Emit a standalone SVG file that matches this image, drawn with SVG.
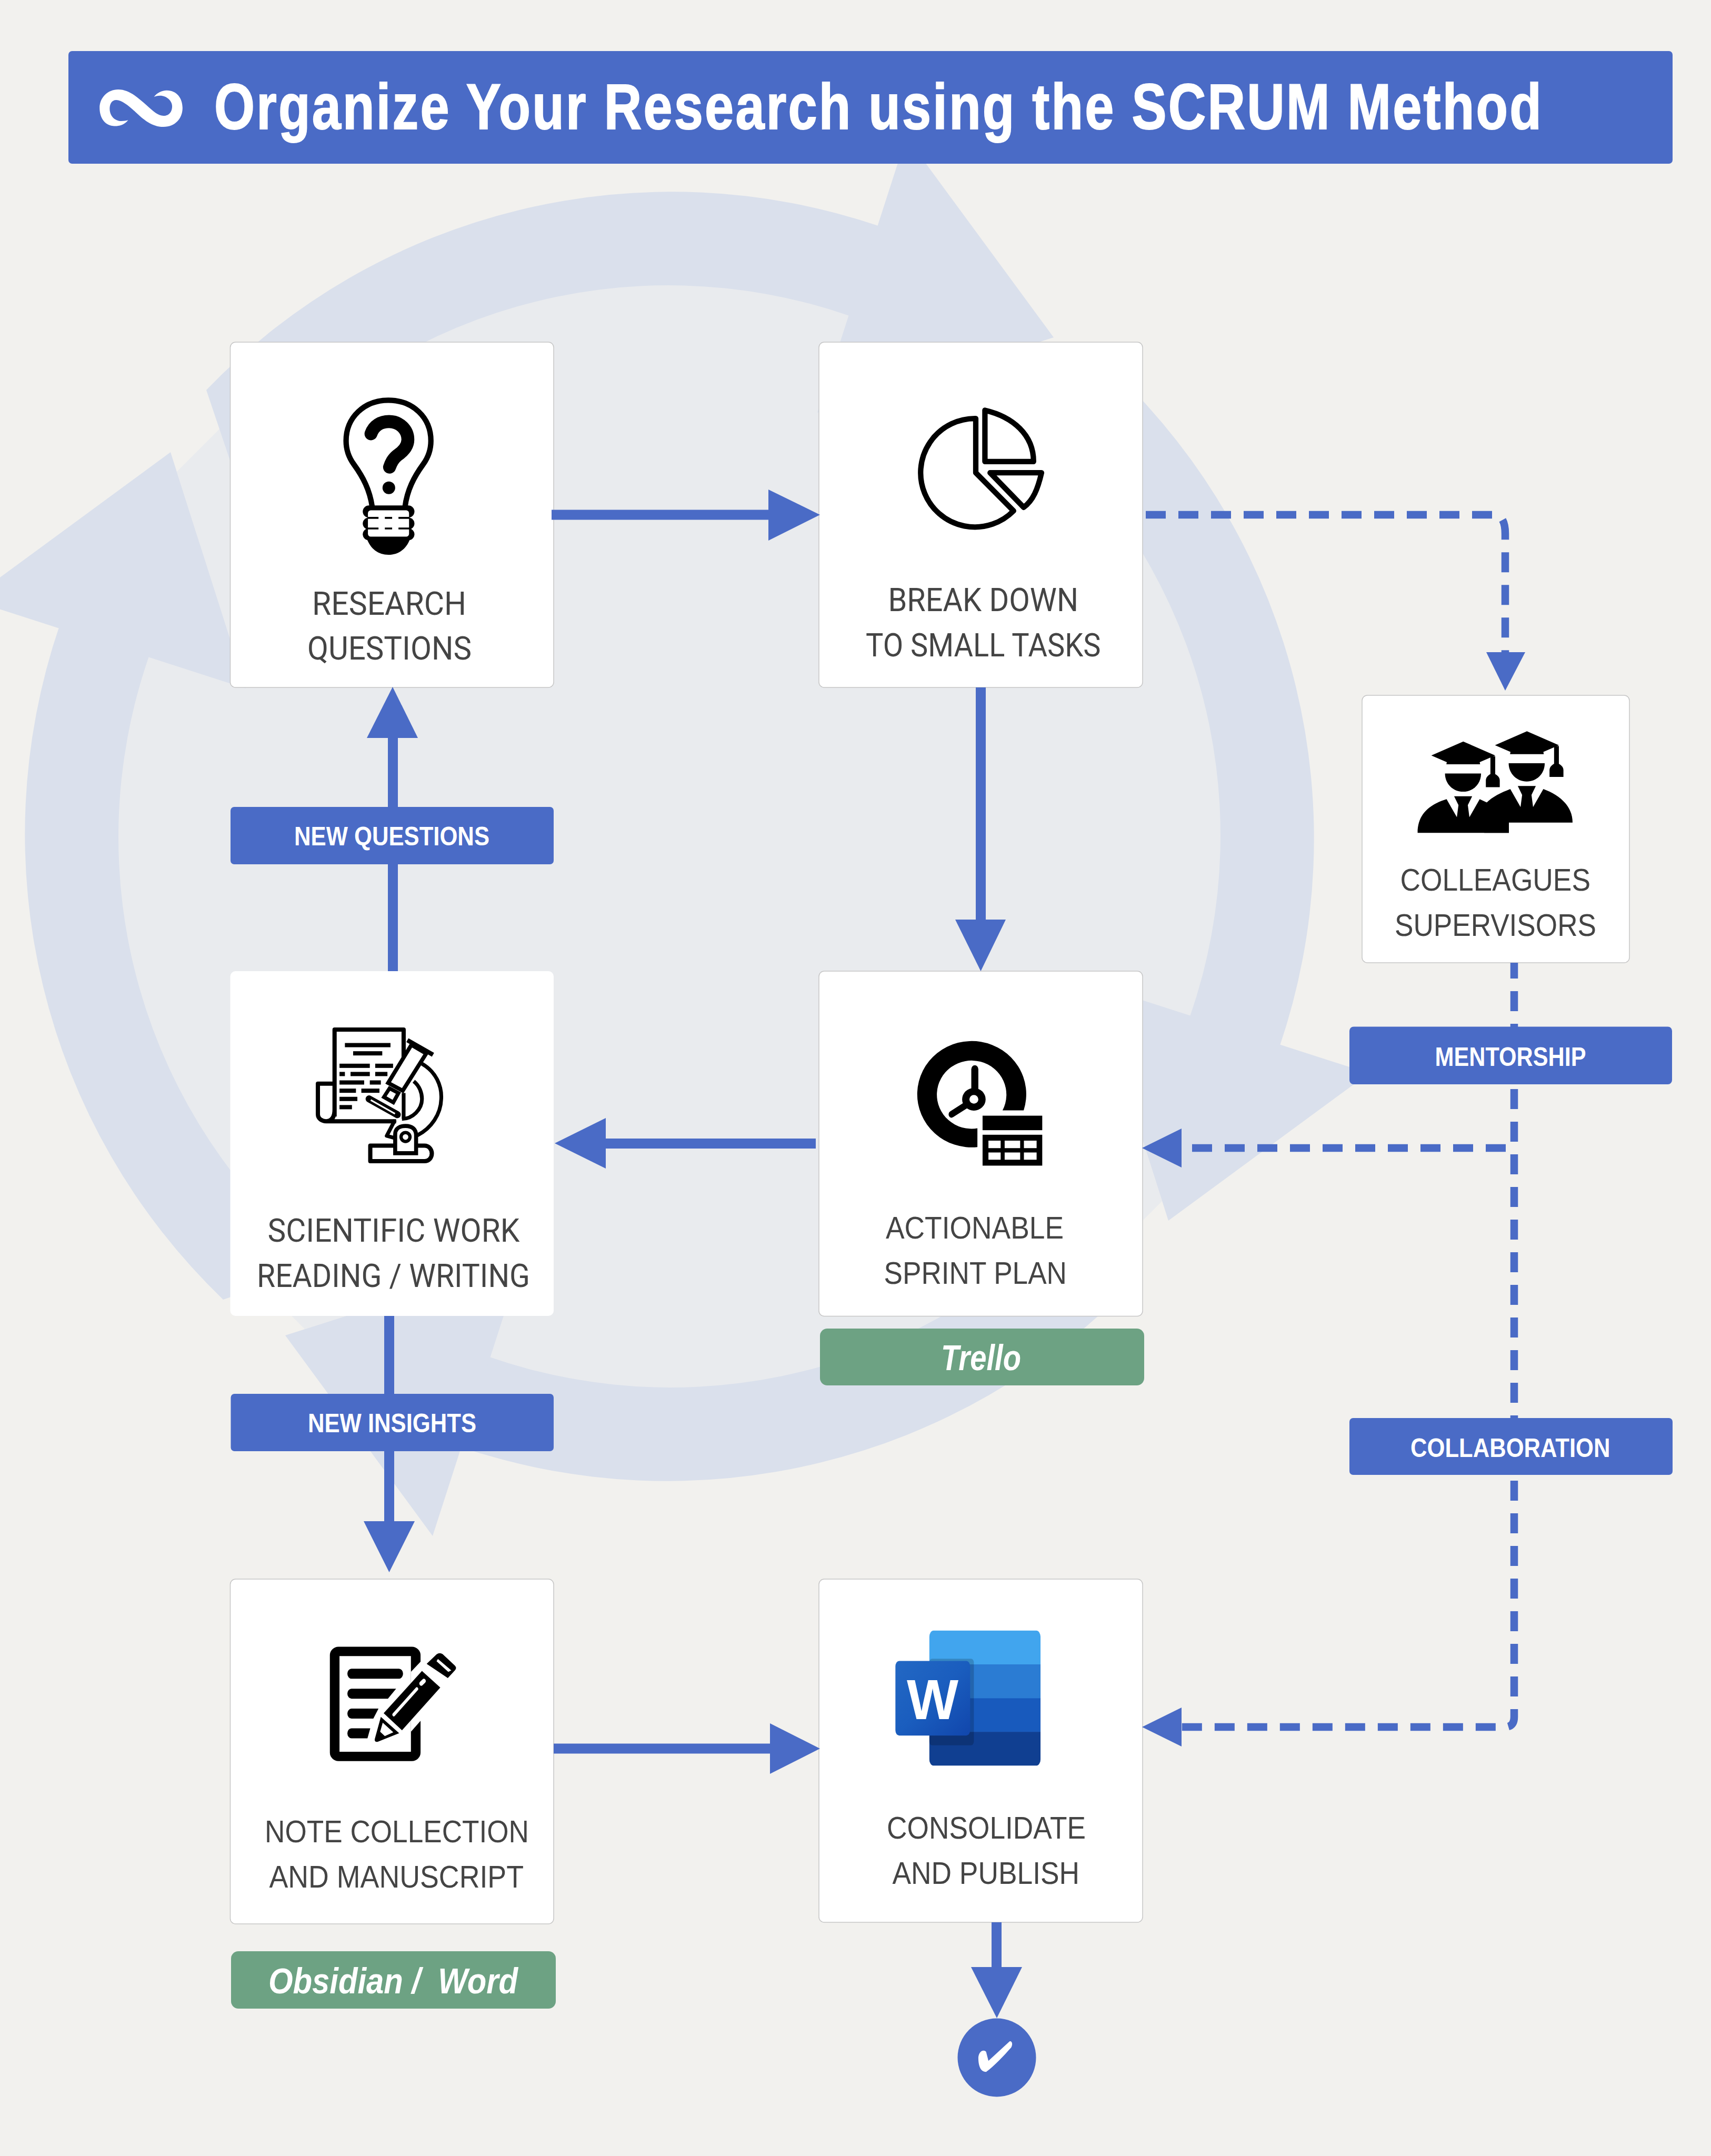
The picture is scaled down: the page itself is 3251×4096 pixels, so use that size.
<svg xmlns="http://www.w3.org/2000/svg" xmlns:xlink="http://www.w3.org/1999/xlink" width="3251" height="4096" viewBox="0 0 3251 4096">
<style>
.box{fill:#fff;stroke:#c6c6c6;stroke-width:1.5}
.lab{fill:#4a6bc6}
.grn{fill:#6da283}
.t{font-family:"Liberation Sans",Arial,sans-serif;font-size:60px;fill:#444}
.r{font-family:Roboto,"Liberation Sans",sans-serif;font-size:62px;fill:#444}
.b{font-family:"Liberation Sans",Arial,sans-serif;font-size:50px;font-weight:700;fill:#fff}
.i{font-family:"Liberation Sans",Arial,sans-serif;font-size:68px;font-weight:700;font-style:italic;fill:#fff;white-space:pre}
.solid{fill:none;stroke:#4a6bc6;stroke-width:19}
.dash{fill:none;stroke:#4a6bc6;stroke-width:14.5;stroke-dasharray:38 24}
.head{fill:#4a6bc6}
.ol{fill:none;stroke:#000;stroke-linejoin:round}
.wo{fill:#fff;stroke:#000;stroke-linejoin:miter}
</style>
<defs>
<g id="seg"><path d="M392,741A1226,1226 0 0 1 1672,430L1614,600A1047,1047 0 0 0 456,931Z"/><polygon points="1722,260 2002,641 1553,784"/></g>
<polygon id="gap" points="417,815 336,896 467,1308 520,1000"/>
<linearGradient id="wg" x1="0" y1="0" x2="1" y2="1"><stop offset="0" stop-color="#2368c4"/><stop offset=".5" stop-color="#1a5dbe"/><stop offset="1" stop-color="#1146ac"/></linearGradient>
<clipPath id="wc"><rect x="483" y="153" width="474" height="403" rx="20"/></clipPath>
<g id="grad"><path d="M368,265L508,213L648,265L580,290L582,298L434,298L436,290Z"/><rect x="627" y="268" width="21" height="70"/><path d="M607,383V358C607,345 620,335 637,331C655,335 668,345 668,358V383Z"/><path d="M428,332H586C586,372 550,400 507,400C465,400 428,372 428,332Z"/></g>
</defs>
<rect id="background" width="3251" height="4096" fill="#f2f1ee"/>
<g id="cycle">
<g fill="#e9ebee">
<circle cx="1272" cy="1589" r="1050"/>
<use xlink:href="#gap"/><use xlink:href="#gap" transform="rotate(90 1272 1589)"/><use xlink:href="#gap" transform="rotate(180 1272 1589)"/><use xlink:href="#gap" transform="rotate(270 1272 1589)"/>
</g>
<g fill="#dae0ec">
<use xlink:href="#seg"/><use xlink:href="#seg" transform="rotate(90 1272 1589)"/><use xlink:href="#seg" transform="rotate(180 1272 1589)"/><use xlink:href="#seg" transform="rotate(270 1272 1589)"/>
</g>
</g>
<g id="header"><rect x="130" y="97" width="3048" height="214" rx="7" class="lab"/>
<path transform="translate(100 80) scale(.6378 .3333)" fill="#fff" d="M225,445C210,480 190,480 180,478C150,470 140,420 140,375C140,315 165,270 195,270C230,270 255,320 280,360C300,395 315,420 330,420C350,420 356,390 356,365C356,335 340,305 320,305C312,305 306,308 302,312C310,290 325,275 340,275C370,275 387,320 387,375C387,435 365,483 330,483C295,483 270,440 245,395C225,360 205,330 190,330C175,330 170,355 170,380C170,420 185,450 205,450C213,450 218,448 225,445Z"/>
<text x="407" y="245" font-family="Liberation Sans, Arial, sans-serif" font-size="122" font-weight="700" fill="#fff" stroke="#fff" stroke-width="2" letter-spacing="4" textLength="2525" lengthAdjust="spacingAndGlyphs">Organize Your Research using the SCRUM Method</text></g>
<g id="node-research-questions"><rect class="box" x="437.500" y="650" width="614.500" height="656" rx="10"/>
<g transform="translate(400 650) scale(.4464)">
<path class="ol" stroke-width="23" d="M688,700C678,630 650,575 610,520C588,490 577,458 577,420C577,320 655,247 757,247C860,247 938,320 938,420C938,458 927,490 905,520C865,575 837,630 828,700"/>
<path class="ol" stroke-width="55" stroke-linecap="round" d="M683,390C695,355 725,338 760,338C805,338 840,372 840,415C840,445 820,465 795,482C775,498 768,515 762,532"/>
<circle cx="759" cy="620" r="27"/>
<rect x="648" y="695" width="220" height="52" rx="26"/><rect x="648" y="747" width="220" height="50" rx="25"/><rect x="648" y="793" width="220" height="50" rx="25"/>
<rect x="670" y="716" width="175" height="112" rx="12" fill="#fff"/>
<path stroke="#000" stroke-width="8" d="M668,748H715M742,748H773M800,748H847M668,793H715M742,793H773M800,793H847"/>
<path d="M665,835C680,880 715,905 757,905C800,905 835,880 850,835Z"/>
</g>
<text class="r" x="593" y="1168" textLength="293" lengthAdjust="spacingAndGlyphs">RESEARCH</text>
<text class="r" x="584" y="1253" textLength="312" lengthAdjust="spacingAndGlyphs">QUESTIONS</text></g>
<g id="node-break-down"><rect class="box" x="1556" y="650" width="615" height="656" rx="10"/>
<g transform="translate(1550 650) scale(.4464)" class="ol" stroke-width="23">
<path d="M681,325A231,231 0 1 0 842,718L681,556Z"/>
<path d="M720,290V508H927C927,395 840,318 720,290Z"/>
<path d="M742,556H961C945,625 925,675 885,703Z"/>
</g>
<text class="r" x="1687.500" y="1161" textLength="361.500" lengthAdjust="spacingAndGlyphs">BREAK DOWN</text>
<text class="r" x="1645" y="1247" textLength="446.500" lengthAdjust="spacingAndGlyphs">TO SMALL TASKS</text></g>
<g id="node-colleagues"><rect class="box" x="2588" y="1321" width="508" height="508" rx="10"/>
<g transform="translate(2560 1300) scale(.4336 .5102)">
<path d="M308,553C308,490 350,450 435,428L480,495L487,450L468,417H547L528,450L535,495L580,428L616,442C660,450 708,490 708,553Z"/>
<path d="M600,515V450C630,420 670,405 714,390L759,457L766,412L747,379H826L807,412L814,457L859,390C929,412 987,452 987,515H708V553H600Z"/>
<use xlink:href="#grad"/><use xlink:href="#grad" x="279" y="-38"/>
</g>
<text class="t" x="2660.500" y="1692" textLength="361.500" lengthAdjust="spacingAndGlyphs">COLLEAGUES</text>
<text class="t" x="2650" y="1778" textLength="383" lengthAdjust="spacingAndGlyphs">SUPERVISORS</text></g>
<g id="node-scientific-work"><rect x="437.500" y="1845" width="614.500" height="655" rx="10" fill="#fff"/>
<g transform="translate(400 1840) scale(.4464)" fill="#000">
<path class="ol" stroke-width="18" stroke-linejoin="miter" d="M528,630V260H822V380M528,490H457V620C457,640 475,650 492,650C515,650 528,635 528,600M490,650H790"/>
<rect x="572" y="317" width="194" height="18"/><rect x="607" y="352" width="124" height="18"/><rect x="549" y="405" width="129" height="18"/><rect x="701" y="405" width="76" height="18"/><rect x="549" y="440" width="23" height="18"/><rect x="596" y="440" width="82" height="18"/><rect x="701" y="440" width="52" height="18"/><rect x="549" y="476" width="105" height="18"/><rect x="678" y="476" width="47" height="18"/><rect x="549" y="511" width="70" height="18"/><rect x="642" y="511" width="77" height="18"/><rect x="549" y="546" width="76" height="18"/><rect x="549" y="581" width="53" height="18"/>
<path class="ol" stroke-width="16" d="M900,405C960,440 985,500 982,555C980,620 940,680 880,710M865,480C890,500 900,530 900,555C900,600 860,640 815,640M822,530V640"/>
<polygon class="wo" stroke-width="17" points="855,325 918,362 818,520 756,487"/>
<polygon class="wo" stroke-width="16" points="762,510 800,530 778,570 738,547"/>
<path stroke="#000" stroke-width="19" fill="none" d="M838,305L947,367"/>
<path stroke="#000" stroke-width="30" stroke-linecap="round" d="M675,555L795,622"/><path stroke="#fff" stroke-width="7" d="M682,560L785,618"/>
<path class="ol" stroke-width="16" d="M785,645L750,712L786,722"/>
<path class="ol" stroke-width="18" stroke-linejoin="miter" d="M780,754H680V820H910C930,820 942,805 942,787C942,770 930,754 910,754H880"/>
<path class="wo" stroke-width="17" d="M786,786V705C786,680 805,670 830,670C860,670 875,685 875,710V786Z"/>
<circle cx="830" cy="717" r="19" fill="#fff" stroke="#000" stroke-width="14"/>
</g>
<text class="r" x="508.500" y="2359" textLength="479" lengthAdjust="spacingAndGlyphs">SCIENTIFIC WORK</text>
<text class="r" x="488" y="2444.500" textLength="519" lengthAdjust="spacingAndGlyphs">READING / WRITING</text></g>
<g id="node-sprint-plan"><rect class="box" x="1556" y="1845" width="615" height="655.500" rx="10"/>
<g transform="translate(1550 1840) scale(.4464 .5102)">
<path d="M688,665A232,198 0 1 1 885,528H795A148,127 0 1 0 688,595Z"/>
<path stroke="#000" stroke-width="30" stroke-linecap="round" d="M677,375V480"/>
<path stroke="#000" stroke-width="25" stroke-linecap="round" d="M578,543L660,497"/>
<ellipse cx="673" cy="487" rx="50" ry="42"/><ellipse cx="673" cy="487" rx="19" ry="16" fill="#fff"/>
<rect x="710" y="548" width="254" height="54"/><rect x="710" y="619" width="254" height="115"/>
<path fill="#fff" d="M735,641h52v28h-52zM804,641h66v28h-66zM886,641h54v28h-54zM735,685h52v27h-52zM804,685h66v27h-66zM886,685h54v27h-54z"/>
</g>
<text class="t" x="1683" y="2353" textLength="338" lengthAdjust="spacingAndGlyphs">ACTIONABLE</text>
<text class="t" x="1679.500" y="2438.500" textLength="347.500" lengthAdjust="spacingAndGlyphs">SPRINT PLAN</text></g>
<g id="node-note-collection"><rect class="box" x="437.500" y="3000" width="614.500" height="655" rx="10"/>
<g transform="translate(400 3000) scale(.4464 .5421)">
<path fill-rule="evenodd" d="M545,237H857A37,30 0 0 1 894,267V608A37,30 0 0 1 857,638H545A37,30 0 0 1 508,608V267A37,30 0 0 1 545,237ZM549,270V605H853V270Z"/>
<polygon fill="#fff" points="853,325 896,288 896,495 853,535"/>
<path d="M600,314H802A17.500,17.500 0 0 1 802,349H600A17.500,17.500 0 0 1 600,314ZM600,384H790L755,419H600A17.500,17.500 0 0 1 600,384ZM600,454H715L693,489H600A17.500,17.500 0 0 1 600,454ZM600,523H680L668,558H600A17.500,17.500 0 0 1 600,523Z"/>
<polygon points="737,470 900,322 978,380 815,530"/>
<path stroke="#fff" stroke-width="12" stroke-linecap="round" d="M780,475L878,385"/><path stroke="#fff" stroke-width="16" stroke-linecap="round" d="M897,366L908,357"/>
<path fill-rule="evenodd" d="M920,297L962,264Q975,256 988,263L1040,303Q1050,312 1040,320L1010,347ZM968,280L1025,320L1012,325L962,288Z"/>
<path d="M725,483L803,540L712,570Q695,572 700,558ZM733,503L722,535L742,550L778,537Z" fill-rule="evenodd"/>
</g>
<text class="t" x="503" y="3500" textLength="502" lengthAdjust="spacingAndGlyphs">NOTE COLLECTION</text>
<text class="t" x="511.500" y="3586" textLength="483.500" lengthAdjust="spacingAndGlyphs">AND MANUSCRIPT</text></g>
<g id="node-consolidate"><rect class="box" x="1556" y="3000" width="615" height="652" rx="10"/>
<g transform="translate(1550 3000) scale(.4464 .6378)">
<g clip-path="url(#wc)"><rect x="483" y="153" width="474" height="102" fill="#41a5ee"/><rect x="483" y="254" width="474" height="102" fill="#2b7cd3"/><rect x="483" y="355" width="474" height="101" fill="#185abd"/><rect x="483" y="455" width="474" height="101" fill="#103f91"/></g>
<rect x="483" y="237" width="190" height="258" rx="12" fill="#000" opacity=".18"/>
<rect x="339" y="244" width="318" height="222" rx="16" fill="url(#wg)"/>
</g>
<text x="1772" y="3266" text-anchor="middle" font-family="Liberation Sans, Arial, sans-serif" font-size="107" font-weight="700" fill="#fff" textLength="98" lengthAdjust="spacingAndGlyphs">W</text>
<text class="t" x="1685" y="3493" textLength="378" lengthAdjust="spacingAndGlyphs">CONSOLIDATE</text>
<text class="t" x="1695.500" y="3579" textLength="355.500" lengthAdjust="spacingAndGlyphs">AND PUBLISH</text></g>
<g id="connectors">
<path class="solid" d="M1048,978H1465"/><polygon class="head" points="1460,930 1558,978 1460,1027"/>
<path class="solid" d="M1863.5,1306V1750"/><polygon class="head" points="1815,1747 1911,1747 1863.5,1845"/>
<path class="solid" d="M746.500,1845V1400"/><polygon class="head" points="697,1402 794,1402 746,1305"/>
<path class="solid" d="M1550,2172.500H1148"/><polygon class="head" points="1151,2124 1151,2220 1054,2172"/>
<path class="solid" d="M739.500,2500V2895"/><polygon class="head" points="691,2890 788,2890 739.500,2987"/>
<path class="solid" d="M1052,3322H1466"/><polygon class="head" points="1463,3274 1558,3322 1463,3370"/>
<path class="solid" d="M1893.500,3652V3745"/><polygon class="head" points="1845,3737 1942,3737 1894,3834"/>
<path class="dash" d="M2177,978H2844Q2860,984 2860,1014V1245"/><polygon class="head" points="2824,1239 2898,1239 2860,1312"/>
<path class="dash" style="stroke-dashoffset:8" d="M2877,1829V3262Q2877,3281 2859,3281H2240"/><polygon class="head" points="2245,3244 2245,3318 2170,3281"/>
<path class="dash" d="M2861,2181H2240"/><polygon class="head" points="2245,2144 2245,2218 2170,2181"/>
</g>
<g id="node-done"><circle cx="1894" cy="3909" r="74.500" class="lab"/>
<path transform="translate(1550 3000) scale(.4464 .6378)" fill="#fff" d="M692,1425C695,1405 715,1400 725,1408L735,1435L825,1377C835,1375 840,1385 832,1395C800,1420 760,1450 725,1468C705,1468 692,1455 692,1425Z"/></g>
<g id="label-new-questions"><rect class="lab" x="438" y="1533" width="614" height="109" rx="7"/><text class="b" x="559" y="1606" textLength="371" lengthAdjust="spacingAndGlyphs">NEW QUESTIONS</text></g>
<g id="label-new-insights"><rect class="lab" x="438.500" y="2648" width="613.500" height="109" rx="7"/><text class="b" x="585" y="2721" textLength="320" lengthAdjust="spacingAndGlyphs">NEW INSIGHTS</text></g>
<g id="label-mentorship"><rect class="lab" x="2564" y="1950.500" width="613" height="109.500" rx="8"/><text class="b" x="2726.500" y="2024.500" textLength="287" lengthAdjust="spacingAndGlyphs">MENTORSHIP</text></g>
<g id="label-collaboration"><rect class="lab" x="2564" y="2694" width="614" height="108" rx="7"/><text class="b" x="2680" y="2768" textLength="379.500" lengthAdjust="spacingAndGlyphs">COLLABORATION</text></g>
<g id="tool-trello"><rect class="grn" x="1558" y="2524" width="616" height="108" rx="14"/><text class="i" x="1788" y="2603" textLength="152" lengthAdjust="spacingAndGlyphs">Trello</text></g>
<g id="tool-obsidian-word"><rect class="grn" x="439" y="3707" width="617" height="109" rx="14"/><text class="i" x="510" y="3786.500" textLength="474" lengthAdjust="spacingAndGlyphs">Obsidian /  Word</text></g>
</svg>
